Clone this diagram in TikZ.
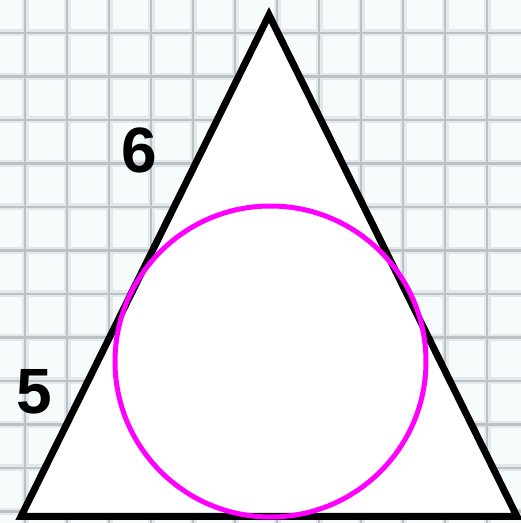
\documentclass[tikz,border=0pt]{standalone}
\usepackage{fontspec}
\setmainfont{Liberation Sans}
\definecolor{paper}{RGB}{246,251,252}
\definecolor{gridcol}{RGB}{186,194,198}
\definecolor{gridsoft}{RGB}{226,232,235}
\definecolor{incircle}{RGB}{255,0,255}
\begin{document}
\begin{tikzpicture}[x=1pt, y=1pt,
    gridline/.style = {draw=gridcol, line width=2.4pt},
    gridblur/.style = {draw=gridsoft, line width=7pt},
    side/.style = {draw=black, line width=7pt, line join=miter, fill=white},
    num/.style = {font=\fontsize{64}{64}\selectfont\bfseries, inner sep=0pt}]
        \useasboundingbox (0,0) rectangle (521,523);
        % Background paper
        \fill[paper] (0,0) rectangle (521,523);
        \foreach \x in {0,...,11} {
            \draw[gridblur] (25+42*\x,0) -- (25+42*\x,523);
        }
        \foreach \y in {0,...,11} {
            \draw[gridblur] (0,490-43.5*\y) -- (521,490-43.5*\y);
        }
        \foreach \x in {0,...,11} {
            \draw[gridline] (25+42*\x,0) -- (25+42*\x,523);
        }
        \foreach \y in {0,...,11} {
            \draw[gridline] (0,490-43.5*\y) -- (521,490-43.5*\y);
        }

        % Nodes
        \coordinate (A) at (21,6.5);
        \coordinate (B) at (517,6.5);
        \coordinate (C) at (269,508);
        \coordinate (O) at (270.5,161.5);
        \node[num] (6) at (139,373) {6};
        \node[num] (5) at (34,131) {5};

        % Connections
        \draw[side] (A) -- (B) -- (C) -- cycle;
        \draw[incircle, line width=5pt] (O) circle (155.5);
      \end{tikzpicture}
\end{document}
